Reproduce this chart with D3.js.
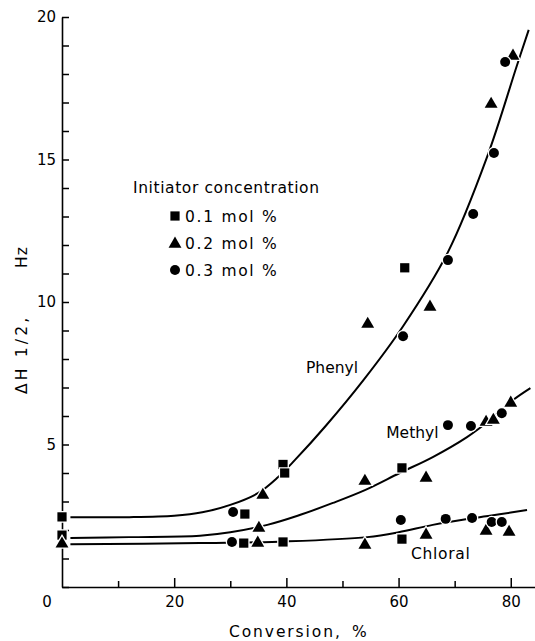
<!DOCTYPE html>
<html>
<head>
<meta charset="utf-8">
<script src="https://cdn.jsdelivr.net/npm/d3@7"></script>
<style>
  html, body { margin: 0; padding: 0; background: #fff; }
  svg { display: block; }
  text { font-family: "DejaVu Sans", "Liberation Sans", Arial, sans-serif; fill: #000; }
</style>
</head>
<body>
<svg id="chart" width="535" height="641"></svg>
<script>
// ---- data ----
const xTickValues = [0, 10, 20, 30, 40, 50, 60, 70, 80];
const xLabelValues = [20, 40, 60, 80];
const yTickValues = d3.range(0, 21);
const yLabelValues = [5, 10, 15, 20];

const legendTitle = "Initiator concentration";
const seriesNames = ["0.1 mol %", "0.2 mol %", "0.3 mol %"];
const seriesShapes = ["square", "triangle", "circle"];

const squares01 = [[0,2.46],[0,1.82],[32.6,2.56],[32.4,1.54],[39.4,4.3],[39.7,4.0],[39.4,1.58],[60.6,4.18],[60.6,1.68],[61.1,11.2]];
const triangles02 = [[0,1.55],[35.8,3.26],[35.1,2.1],[34.9,1.58],[54.0,3.75],[54.0,1.51],[54.5,9.26],[64.9,3.86],[64.9,1.86],[65.6,9.86],[75.6,5.82],[76.9,5.89],[75.6,2.0],[79.7,1.96],[80.0,6.49],[76.5,16.98],[80.4,18.67]];
const circles03 = [[30.5,2.63],[30.3,1.58],[60.4,2.35],[60.8,8.8],[68.8,5.68],[68.4,2.39],[68.8,11.47],[72.9,5.65],[73.1,2.42],[73.3,13.09],[76.6,2.28],[77.0,15.23],[78.4,6.1],[78.4,2.28],[79.0,18.42]];

const curveNames = ["Phenyl", "Methyl", "Chloral"];
const phenylCurve = [[1.5,2.45],[12,2.45],[20,2.5],[25,2.62],[30,2.88],[35,3.3],[38.5,3.85],[41.5,4.45],[47,5.65],[53.7,7.25],[60.8,9.15],[68.8,11.75],[75.8,15.1],[81.1,18.3],[83.2,19.55]];
const methylCurve = [[1.5,1.72],[12,1.75],[24.6,1.8],[30,1.92],[36.6,2.18],[42,2.5],[48.3,2.95],[54,3.4],[60.2,4.0],[66.1,4.56],[72.2,5.26],[76.3,5.86],[80.4,6.56],[83.5,6.98]];
const chloralCurve = [[1.5,1.5],[24.6,1.54],[40,1.6],[54.4,1.75],[60,1.92],[66.1,2.18],[73.3,2.42],[78,2.55],[82.9,2.7]];
const curveLabelAt = [[43.5,7.5],[57.8,5.22],[62.2,1.0]];

// ---- drawing ----
const FONT = 15.5;
const svg = d3.select("#chart");
const x = d3.scaleLinear().domain([0, 84.5]).range([62, 536]);
const y = d3.scaleLinear().domain([0, 20]).range([587, 17]);

// x axis: minor + major ticks
const xAxisG = svg.append("g").attr("transform", `translate(0,${y(0)})`);
xAxisG.call(d3.axisBottom(x).tickValues(xTickValues.filter(v => v % 20 !== 0)).tickSize(-6).tickSizeOuter(0).tickFormat(""));
const xMajor = svg.append("g").attr("transform", `translate(0,${y(0)})`);
xMajor.call(d3.axisBottom(x).tickValues(xLabelValues).tickSize(-9).tickSizeOuter(0).tickPadding(9).tickFormat(d3.format("d")));
xMajor.select(".domain").remove();

// y axis
const yAxisG = svg.append("g").attr("transform", `translate(${x(0)},0)`);
yAxisG.call(d3.axisLeft(y).tickValues(yTickValues).tickSize(-7).tickSizeOuter(0).tickPadding(6)
  .tickFormat(d => yLabelValues.includes(d) ? d : ""));

svg.selectAll(".domain").attr("stroke", "#000").attr("stroke-width", 1.6);
svg.selectAll(".tick line").attr("stroke", "#000").attr("stroke-width", 1.5);
svg.selectAll(".tick text").attr("font-size", 15).attr("font-family", "DejaVu Sans, sans-serif");

// origin label
svg.append("text").attr("x", x(0) - 15).attr("y", y(0) + 20).attr("text-anchor", "middle")
  .attr("font-size", 15).text("0");

// axis titles
svg.append("text").attr("x", 229).attr("y", 637).attr("font-size", FONT).attr("letter-spacing", 1.9).text("Conversion,");
svg.append("text").attr("x", 352).attr("y", 637).attr("font-size", FONT).text("%");
svg.append("text").attr("transform", "translate(27,394) rotate(-90)").attr("font-size", FONT).attr("letter-spacing", 3.2).text("ΔH 1/2,");
svg.append("text").attr("transform", "translate(27,268) rotate(-90)").attr("font-size", FONT).attr("letter-spacing", 1).text("Hz");

// fitted curves
const line = d3.line().x(d => x(d[0])).y(d => y(d[1])).curve(d3.curveCatmullRom.alpha(0.5));
[phenylCurve, methylCurve, chloralCurve].forEach(c => {
  svg.append("path").datum(c).attr("d", line).attr("fill", "none").attr("stroke", "#000").attr("stroke-width", 2);
});
curveNames.forEach((n, i) => {
  svg.append("text").attr("x", x(curveLabelAt[i][0])).attr("y", y(curveLabelAt[i][1])).attr("font-size", FONT)
    .attr("letter-spacing", i === 2 ? 0.7 : 0).text(n);
});

// markers
const symbolTypes = { square: d3.symbolSquare, triangle: d3.symbolTriangle, circle: d3.symbolCircle };
const symbolSizes = { square: 85, triangle: 72, circle: 78 };
function drawMarkers(data, shape) {
  svg.append("g").selectAll("path").data(data).join("path")
    .attr("transform", d => `translate(${x(d[0])},${y(d[1]) + (shape === "triangle" ? 1 : 0)})`)
    .attr("d", d3.symbol().type(symbolTypes[shape]).size(symbolSizes[shape]))
    .attr("fill", "#000").attr("stroke", "#fff").attr("stroke-width", 2.5).attr("paint-order", "stroke");
}
drawMarkers(squares01, "square");
drawMarkers(triangles02, "triangle");
drawMarkers(circles03, "circle");

// legend
svg.append("text").attr("x", 133).attr("y", 193).attr("font-size", FONT).attr("letter-spacing", 0.6).text(legendTitle);
seriesNames.forEach((n, i) => {
  const cy = 216 + i * 27;
  svg.append("path").attr("transform", `translate(175,${cy + (seriesShapes[i] === "triangle" ? 1 : 0)})`)
    .attr("d", d3.symbol().type(symbolTypes[seriesShapes[i]]).size(symbolSizes[seriesShapes[i]])).attr("fill", "#000");
  svg.append("text").attr("x", 185).attr("y", cy + 5.5).attr("font-size", FONT).attr("letter-spacing", 1.7).text(n);
});
</script>
</body>
</html>
